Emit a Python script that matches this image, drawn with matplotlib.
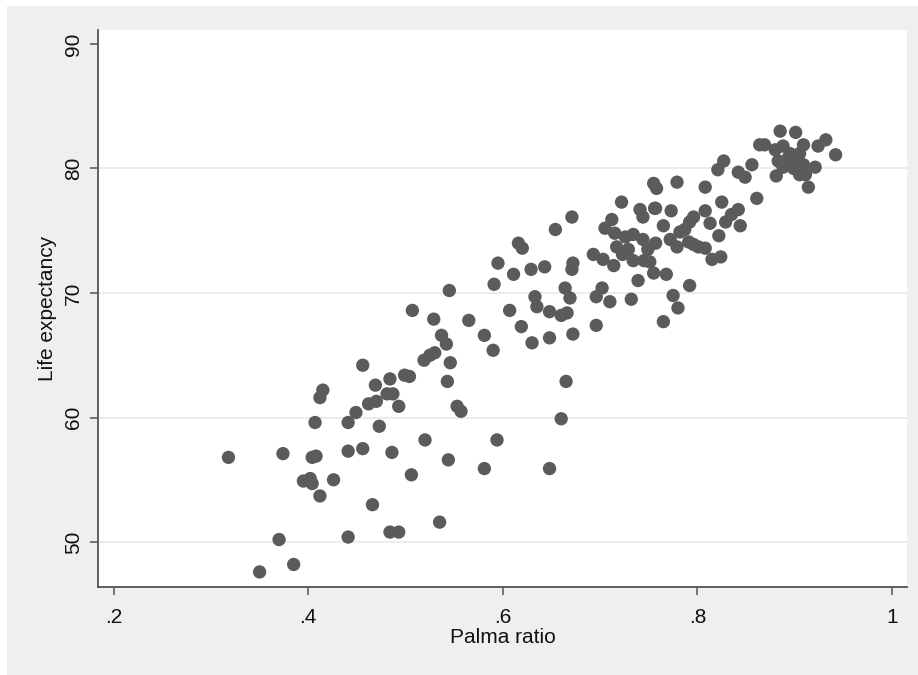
import matplotlib
matplotlib.use("Agg")
import matplotlib.pyplot as plt
from matplotlib.patches import Rectangle

plt.rcParams['font.family'] = ['Liberation Sans', 'DejaVu Sans']

# Palma ratio (x) and life expectancy (y)
palma = [
    0.318, 0.374, 0.404, 0.408, 0.395, 0.402, 0.404, 0.426, 0.412, 0.350,
    0.370, 0.385, 0.441, 0.466, 0.484, 0.493, 0.506, 0.535, 0.486, 0.441,
    0.456, 0.520, 0.407, 0.441, 0.449, 0.473, 0.412, 0.415, 0.462, 0.470,
    0.493, 0.481, 0.487, 0.469, 0.484, 0.499, 0.504, 0.456, 0.519, 0.525,
    0.530, 0.542, 0.546, 0.543, 0.553, 0.557, 0.544, 0.594, 0.581, 0.648,
    0.665, 0.660,
    0.545, 0.591, 0.507, 0.529, 0.565, 0.607, 0.633, 0.635, 0.648, 0.664,
    0.669, 0.660, 0.666, 0.696, 0.696, 0.537, 0.581, 0.590, 0.619, 0.630,
    0.648, 0.672, 0.702, 0.710, 0.732, 0.739, 0.755, 0.768, 0.751, 0.792,
    0.775, 0.780, 0.765, 0.595, 0.611, 0.629, 0.643, 0.672, 0.671, 0.693,
    0.703, 0.714, 0.616, 0.620, 0.654, 0.671, 0.712, 0.705, 0.715, 0.722,
    0.741, 0.744, 0.756, 0.717, 0.726, 0.734, 0.744, 0.749, 0.729, 0.723,
    0.734, 0.745, 0.757, 0.772, 0.779, 0.791, 0.796, 0.801, 0.808, 0.815,
    0.824, 0.822, 0.765, 0.782, 0.787, 0.792, 0.796, 0.808, 0.813, 0.829,
    0.835, 0.842, 0.844, 0.757, 0.773, 0.825, 0.755, 0.758, 0.779, 0.808,
    0.821, 0.827, 0.842, 0.849, 0.856, 0.861, 0.864, 0.869, 0.885, 0.901,
    0.932, 0.924, 0.942, 0.881, 0.914, 0.921,
    0.880, 0.888, 0.895, 0.909, 0.905, 0.902, 0.883, 0.888, 0.899, 0.909,
    0.905, 0.911, 0.893,
]
life_exp = [
    56.8, 57.1, 56.8, 56.9, 54.9, 55.1, 54.7, 55.0, 53.7, 47.6,
    50.2, 48.2, 50.4, 53.0, 50.8, 50.8, 55.4, 51.6, 57.2, 57.3,
    57.5, 58.2, 59.6, 59.6, 60.4, 59.3, 61.6, 62.2, 61.1, 61.3,
    60.9, 61.9, 61.9, 62.6, 63.1, 63.4, 63.3, 64.2, 64.6, 65.0,
    65.2, 65.9, 64.4, 62.9, 60.9, 60.5, 56.6, 58.2, 55.9, 55.9,
    62.9, 59.9,
    70.2, 70.7, 68.6, 67.9, 67.8, 68.6, 69.7, 68.9, 68.5, 70.4,
    69.6, 68.2, 68.4, 69.7, 67.4, 66.6, 66.6, 65.4, 67.3, 66.0,
    66.4, 66.7, 70.4, 69.3, 69.5, 71.0, 71.6, 71.5, 72.5, 70.6,
    69.8, 68.8, 67.7, 72.4, 71.5, 71.9, 72.1, 72.4, 71.9, 73.1,
    72.7, 72.2, 74.0, 73.6, 75.1, 76.1, 75.9, 75.2, 74.8, 77.3,
    76.7, 76.1, 76.8, 73.7, 74.5, 74.7, 74.3, 73.5, 73.5, 73.1,
    72.6, 72.6, 74.0, 74.3, 73.7, 74.1, 73.9, 73.7, 73.6, 72.7,
    72.9, 74.6, 75.4, 74.9, 75.1, 75.7, 76.1, 76.6, 75.6, 75.7,
    76.3, 76.7, 75.4, 76.8, 76.6, 77.3, 78.8, 78.4, 78.9, 78.5,
    79.9, 80.6, 79.7, 79.3, 80.3, 77.6, 81.9, 81.9, 83.0, 82.9,
    82.3, 81.8, 81.1, 79.4, 78.5, 80.1,
    81.5, 81.8, 81.2, 81.9, 81.2, 80.7, 80.6, 80.1, 80.0, 80.3,
    79.5, 79.5, 80.8,
]

x_ticks = [0.2, 0.4, 0.6, 0.8, 1.0]
x_tick_labels = ['.2', '.4', '.6', '.8', '1']
y_ticks = [50, 60, 70, 80, 90]

fig = plt.figure(figsize=(9.18, 6.75), dpi=100, facecolor='white')
# grey graph region like Stata's default scheme
bg = Rectangle((7 / 918, 0), 1 - 7 / 918, 1 - 6 / 675,
               transform=fig.transFigure, facecolor='#efefef',
               edgecolor='none', zorder=-10)
fig.add_artist(bg)

ax = fig.add_axes([98 / 918, 88 / 675, 809 / 918, 557 / 675])
ax.set_zorder(1)
ax.set_facecolor('white')

for yv in y_ticks[:-1]:
    ax.axhline(yv, color='#eaeaea', lw=1.3, zorder=1)

ax.scatter(palma, life_exp, s=92, color='#5b5b5b', edgecolors='none', zorder=3)

ax.set_xlim(0.1839, 1.0154)
ax.set_ylim(46.39, 91.12)
ax.set_xticks(x_ticks)
ax.set_xticklabels(x_tick_labels)
ax.set_yticks(y_ticks)
ax.set_yticklabels([str(v) for v in y_ticks], rotation=90, va='center')

for side in ['top', 'right']:
    ax.spines[side].set_visible(False)
for side in ['left', 'bottom']:
    ax.spines[side].set_color('#555555')
    ax.spines[side].set_linewidth(1.3)

ax.tick_params(axis='both', direction='out', length=6, width=1.1,
               color='#555555', labelsize=15, labelcolor='#111111')
ax.tick_params(axis='x', pad=9)
ax.tick_params(axis='y', pad=5)

ax.set_xlabel('Palma ratio', fontsize=15, color='#111111', labelpad=1)
ax.set_ylabel('Life expectancy', fontsize=15, color='#111111', labelpad=5)

fig.savefig('out.png', dpi=100, facecolor=fig.get_facecolor())
